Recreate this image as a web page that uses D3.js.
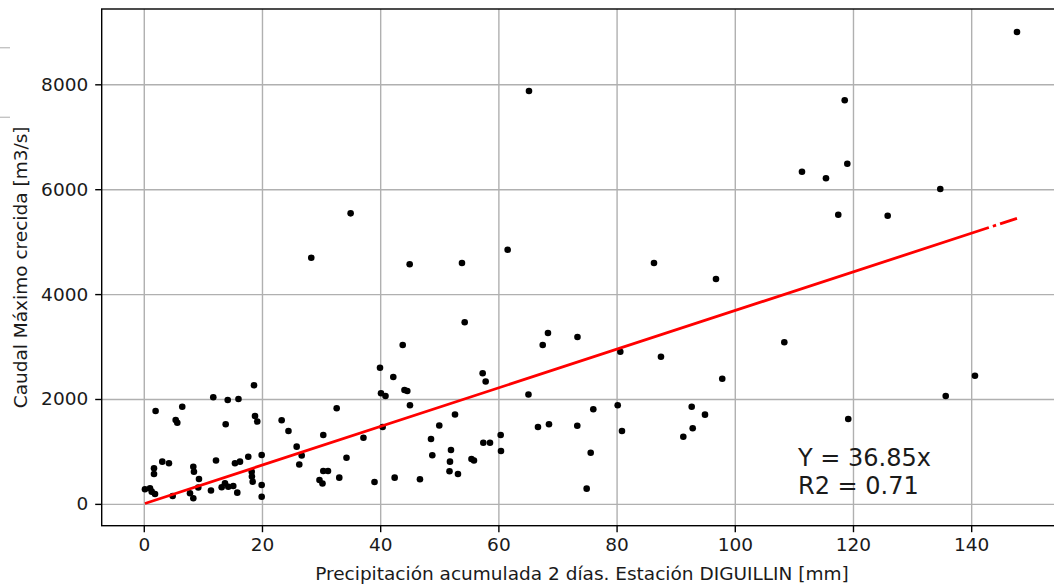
<!DOCTYPE html>
<html><head><meta charset="utf-8">
<script src="https://cdn.jsdelivr.net/npm/d3@7"></script>
<style>html,body{margin:0;padding:0;background:#fff;overflow:hidden}</style>
</head><body>
<svg id="chart" width="1054" height="586"></svg>
<script>
const precip = [0.2,1.05,1.34,1.9,2.0,1.73,1.73,3.13,4.26,4.89,
5.4,5.67,6.51,7.82,8.38,8.38,8.49,9.34,9.22,11.37,
11.76,12.22,13.18,13.74,14.3,13.86,14.2,16.02,15.14,15.82,
15.43,16.28,17.68,18.26,18.3,18.43,18.65,18.82,19.2,19.95,
19.95,19.95,23.33,24.48,25.87,26.72,26.31,29.73,30.24,30.37,
30.37,31.17,33.08,32.64,28.34,35.0,34.3,37.17,39.04,39.97,
42.22,40.14,40.9,40.42,42.45,43.81,44.11,44.59,45.04,44.99,
46.73,48.6,48.82,50.0,51.98,51.81,51.73,53.16,52.66,53.84,
54.3,55.45,55.87,57.34,57.85,57.45,58.58,60.39,60.44,61.57,
65.18,65.09,66.7,67.5,68.39,68.56,73.38,73.35,74.94,75.62,
76.06,80.19,80.63,80.91,86.33,87.51,91.29,92.71,92.88,94.96,
96.82,97.88,108.38,111.37,115.43,117.51,118.6,119.04,119.2,125.87,
134.77,135.69,140.64,147.75];
const caudal = [278,297,233,189,1771,679,570,805,774,151,
1600,1548,1853,202,107,709,614,475,313,255,
2032,827,316,393,328,1518,1981,2000,341,214,
774,805,900,614,522,423,2261,1676,1571,932,
360,137,1594,1390,1091,923,751,456,389,1314,
627,627,500,1823,4694,5540,881,1262,418,2597,
2419,2109,2057,1466,500,3030,2172,2153,1880,4568,
469,1237,927,1495,1028,805,622,570,1705,4593,
3462,856,827,2490,2334,1167,1167,1314,1009,4847,
7873,2086,1466,3030,3258,1518,3182,1491,290,976,
1804,1880,2902,1390,4593,2806,1281,1853,1441,1701,
4288,2387,3081,6334,6208,5514,7695,6486,1619,5495,
6004,2057,2444,8997];
const xTicks = [0,20,40,60,80,100,120,140];
const yTicks = [0,2000,4000,6000,8000];
const xLimits = [-7.12, 155.4];
const yLimits = [-416, 9436];
const slope = 36.85;
const xLabel = "Precipitación acumulada 2 días. Estación DIGUILLIN [mm]";
const yLabel = "Caudal Máximo crecida [m3/s]";
const annotation = ["Y = 36.85x", "R2 = 0.71"];
const annotationAt = [110.7, 189];

const plot = {left:101.7, right:1062.2, top:9, bottom:525.7};
const font = "'DejaVu Sans', sans-serif";
const textColor = '#1a1a1a';
const x = d3.scaleLinear().domain(xLimits).range([plot.left, plot.right]);
const y = d3.scaleLinear().domain(yLimits).range([plot.bottom, plot.top]);
const svg = d3.select('#chart');

// neighbouring-panel remnants at the left edge
svg.append('g').selectAll('line').data([47.7,117.3]).join('line')
  .attr('x1',0).attr('x2',10).attr('y1',d=>d).attr('y2',d=>d)
  .attr('stroke','#c4c4c4').attr('stroke-width',1.4);

// grid
const gx = svg.append('g').attr('transform',`translate(0,${plot.bottom})`)
  .call(d3.axisBottom(x).tickValues(xTicks).tickSize(-(plot.bottom-plot.top)).tickFormat(''));
const gy = svg.append('g').attr('transform',`translate(${plot.left},0)`)
  .call(d3.axisLeft(y).tickValues(yTicks).tickSize(-(plot.right-plot.left)).tickFormat(''));
[gx,gy].forEach(g=>{g.select('.domain').remove();
  g.selectAll('line').attr('stroke','#b0b0b0').attr('stroke-width',1.4);});

// points
svg.append('g').selectAll('circle').data(precip.map((p,i)=>[p,caudal[i]])).join('circle')
  .attr('cx',d=>x(d[0])).attr('cy',d=>y(d[1])).attr('r',3.3).attr('fill','#000');

// fit line (dash-dot, only visible as gaps near the right end)
const ext = d3.extent(precip);
const fitLine = d3.line().x(d=>x(d)).y(d=>y(slope*d));
svg.append('path').datum([ext[1], ext[0]]).attr('d',fitLine)
  .attr('fill','none').attr('stroke','#ff0000').attr('stroke-width',2.8)
  .attr('stroke-dasharray','17.8 4.2 3.4 4.2 5000');

// frame
svg.append('rect').attr('x',plot.left).attr('y',plot.top)
  .attr('width',plot.right-plot.left).attr('height',plot.bottom-plot.top)
  .attr('fill','none').attr('stroke','#000').attr('stroke-width',1.4);

// axes with ticks
const ax = svg.append('g').attr('transform',`translate(0,${plot.bottom})`)
  .call(d3.axisBottom(x).tickValues(xTicks).tickSize(6.5).tickPadding(6).tickFormat(d3.format('d')));
const ay = svg.append('g').attr('transform',`translate(${plot.left},0)`)
  .call(d3.axisLeft(y).tickValues(yTicks).tickSize(6.5).tickPadding(7).tickFormat(d3.format('d')));
[ax,ay].forEach(g=>{g.select('.domain').remove();
  g.selectAll('line').attr('stroke','#000').attr('stroke-width',1.4);
  g.selectAll('text').attr('fill',textColor).style('font-family',font).style('font-size','18.5px');});

// labels
svg.append('text').attr('x',(plot.left+plot.right)/2).attr('y',580)
  .attr('text-anchor','middle').style('font-family',font).style('font-size','18.5px').attr('fill',textColor)
  .text(xLabel);
svg.append('text').attr('transform',`translate(27,${(plot.top+plot.bottom)/2}) rotate(-90)`)
  .attr('text-anchor','middle').style('font-family',font).style('font-size','18.5px').attr('fill',textColor)
  .text(yLabel);

// annotation
const ann = svg.append('text').attr('x',x(annotationAt[0])).attr('y',y(annotationAt[1]))
  .style('font-family',font).style('font-size','24px').attr('fill',textColor);
annotation.forEach((t,i)=>{
  ann.append('tspan').attr('x',x(annotationAt[0]))
     .attr('dy', i===0 ? -(annotation.length-1)*28 : 28).text(t);
});
</script>
</body></html>
